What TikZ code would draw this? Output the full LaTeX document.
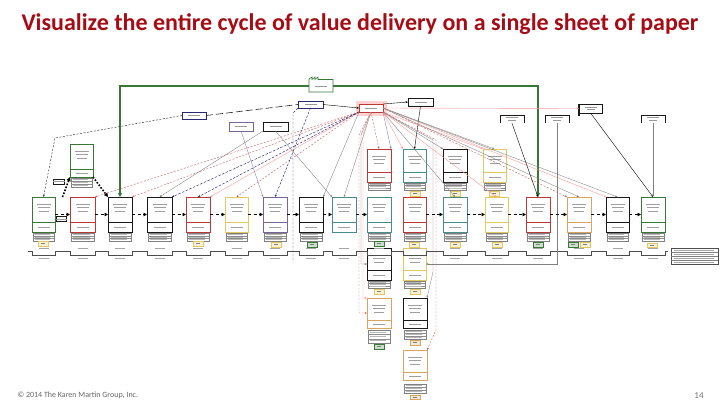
\documentclass[tikz,border=0pt]{standalone}
\usepackage{fontspec}
\setmainfont{Carlito}
\usetikzlibrary{arrows.meta,calc}
\definecolor{ttl}{RGB}{165,12,22}
\definecolor{cRed}{RGB}{190,55,55}
\definecolor{cGrn}{RGB}{55,120,55}
\definecolor{cTeal}{RGB}{70,140,140}
\definecolor{cYel}{RGB}{225,200,95}
\definecolor{cTan}{RGB}{215,165,95}
\definecolor{cPur}{RGB}{120,100,150}
\definecolor{cNavy}{RGB}{40,40,115}
\definecolor{cBlk}{RGB}{25,25,25}
\newcommand\pbx[7]{%
  \node[pbox,draw=#6,minimum width={#4-#2},minimum height={#5-#3}] (#1) at ({(#2+#4)/2},{(#3+#5)/2}) {};
  \draw[draw=#6,line width=0.5pt] (#2,#7) -- (#4,#7);
  \foreach \k in {0,1,2} {\fill[black!38] ({(#2+#4)/2-7+\k},{#3+7+\k*3.4}) rectangle ++({14-2*\k},0.9);}
  \fill[black!38] ({(#2+#4)/2-6},{(#7+#5)/2-0.5}) rectangle ++(12,0.9);
}
\newcommand\pdt[4]{%
  \draw[dtab] ({#1+1},#3) rectangle ({#2-1},#4);
  \draw[black!45,line width=0.3pt] ({#1+1},{#3+(#4-#3)/3}) -- ({#2-1},{#3+(#4-#3)/3})
     ({#1+1},{#3+2*(#4-#3)/3}) -- ({#2-1},{#3+2*(#4-#3)/3});
  \foreach \k in {0,1,2} {\fill[black!28] ({#1+3},{#3+(#4-#3)*(\k+0.5)/3-0.35}) rectangle ++({#2-#1-8},0.7);}
}
\newcommand\plab[3]{%
  \draw[draw=#3,fill=#3!25,line width=0.5pt] ({#1-5},#2) rectangle ({#1+5},{#2+4.5});
  \fill[black!50] ({#1-2},{#2+1.9}) rectangle ++(4,0.8);
}
\tikzset{
  pbox/.style={draw,line width=0.7pt,fill=white,inner sep=0pt,outer sep=0pt},
  sbox/.style={draw,line width=0.6pt,fill=white,inner sep=0pt,outer sep=0pt},
  dtab/.style={draw=black!50,line width=0.35pt,fill=white},
  push/.style={line width=1.1pt,dash pattern=on 3pt off 2.5pt,-{Triangle[length=3.5pt,width=3.5pt]}},
  pullarr/.style={line width=1.6pt,dash pattern=on 1.6pt off 1.6pt,-{Triangle[length=4pt,width=4pt]}},
  info/.style={line width=0.4pt,-{Stealth[length=2.5pt,width=2pt]}},
  redd/.style={draw=cRed!80,line width=0.4pt,dash pattern=on 2pt off 1.5pt,-{Stealth[length=2.5pt,width=2pt]}},
  grayl/.style={draw=black!50,line width=0.35pt,-{Stealth[length=2.5pt,width=2pt]}},
  navl/.style={draw=cNavy,line width=0.45pt,dash pattern=on 2.5pt off 1.5pt,-{Stealth[length=2.5pt,width=2pt]}},
  pinkl/.style={draw=red!40,line width=0.4pt,-{Stealth[length=2.5pt,width=2pt]}},
  purl/.style={draw=cPur!80,line width=0.35pt,-{Stealth[length=2.5pt,width=2pt]}},
  gline/.style={draw=cGrn,line width=1.3pt,-{Triangle[length=4pt,width=4pt]}},
  sdash/.style={draw=black!80,line width=0.45pt,dash pattern=on 2pt off 1.5pt,-{Stealth[length=2.5pt,width=2pt]}},
  ldash/.style={draw=black!85,line width=0.6pt,dash pattern=on 7pt off 3pt},
}
\begin{document}
\begin{tikzpicture}[x=1pt,y=-1pt]
\useasboundingbox (0,0) rectangle (720,405);
\fill[white] (0,0) rectangle (720,405);

% title and footer
\node[font=\fontsize{24}{28}\selectfont\bfseries,text=ttl] (title) at (360,24) {Visualize the entire cycle of value delivery on a single sheet of paper};
\node[anchor=west,font=\fontsize{8}{10}\selectfont,text=black!60] (foot) at (14,395) {© 2014 The Karen Martin Group, Inc.};
\node[font=\fontsize{9}{11}\selectfont,text=black!55] (pg) at (699,396) {14};

% top boxes
\draw[red!18,line width=3pt] (357,102) rectangle (385,114);
\node[pbox,draw=cRed,line width=0.8pt,minimum width=24,minimum height=8] (hub) at (371,108) {};
\node[sbox,draw=cNavy,minimum width=24,minimum height=7] (sales) at (194,115.5) {};
\node[sbox,draw=cNavy,minimum width=25,minimum height=7] (n1) at (310.5,104.5) {};
\node[sbox,draw=cBlk,minimum width=25,minimum height=8] (n2) at (420.5,102) {};
\node[sbox,draw=cBlk,minimum width=23,minimum height=9] (n3) at (590.5,108.5) {};
\node[sbox,draw=cPur,minimum width=24,minimum height=9] (lab) at (241,126.5) {};
\node[sbox,draw=cBlk,minimum width=25,minimum height=9] (n4) at (275.5,126.5) {};
\node[inner sep=0pt,minimum width=24,minimum height=8] (b1) at (512,119) {};
\node[inner sep=0pt,minimum width=24,minimum height=8] (b2) at (557,119) {};
\node[inner sep=0pt,minimum width=24,minimum height=8] (b3) at (653,119) {};
\node[inner sep=0pt,minimum width=24,minimum height=12] (fac) at (321,86) {};
\node[sbox,draw=cBlk,minimum width=11,minimum height=5] (s1) at (58.5,181.5) {};
\node[sbox,draw=cBlk,minimum width=10,minimum height=4.5] (s2) at (61,219) {};
\foreach \nm in {hub,sales,n1,n2,lab,n4,s1,s2} {\fill[black!40] ($(\nm.center)+(-6,-0.4)$) rectangle ++(12,0.9);}
\foreach \nm in {n3,b1,b2,b3} {\fill[black!40] ($(\nm.center)+(-6,-1.6)$) rectangle ++(12,0.9); \fill[black!40] ($(\nm.center)+(-4,0.8)$) rectangle ++(8,0.9);}
\foreach \nm in {b1,b2,b3} {\draw[cBlk,line width=0.6pt] (\nm.south west) -- (\nm.north west) -- (\nm.north east) -- (\nm.south east);}
\draw[cBlk,line width=1.3pt] (n3.north west) -- ++(0,12);
\draw[cBlk,line width=0.8pt] (n3.north east) -- ++(0,10);

% factory icon
\draw[cGrn,line width=0.6pt,fill=white] (309,92) -- (309,79) -- (312,77) -- (312,79.5) -- (315,77) -- (315,79.5) -- (318,77) -- (318,79.5) -- (333,79.5) -- (333,92) -- cycle;
\fill[black!40] (315,86) rectangle ++(12,0.9);

% process boxes: main row
\foreach \n/\a/\b/\c in {1/32/55/cGrn,2/70/95/cRed,3/108/132/cBlk,4/147/172/cBlk,5/186/210/cRed,6/225/248/cYel,7/263/287/cPur,8/299/323/cBlk,9/332/356/cTeal,10/367/391/cTeal,11/403/426/cRed,12/443/467/cTeal,13/485/508/cYel,14/526/550/cRed,15/567/591/cTan,16/606/629/cBlk,17/641/665/cGrn}{%
  \pbx{p\n}{\a}{197}{\b}{232}{\c}{222}
  \ifnum\n=9\relax\else\pdt{\a}{\b}{233}{241}\fi
}
% upper row
\pbx{L}{70}{144}{93}{177}{cGrn}{169}
\pdt{70}{93}{178}{187}
\pbx{A}{367}{149}{391}{182}{cRed}{172}
\pdt{367}{391}{183}{190}
\pbx{B}{403}{149}{426}{182}{cTeal}{172}
\pdt{403}{426}{183}{190}
\pbx{C}{443}{149}{467}{182}{cBlk}{172}
\pdt{443}{467}{183}{190}
\pbx{D}{483}{149}{506}{182}{cYel}{172}
\pdt{483}{506}{183}{190}
\plab{415}{191.5}{cYel}
\plab{455}{191.5}{cYel}
\plab{494}{191.5}{cYel}
% lower rows
\pbx{E1}{367}{248}{391}{280}{cBlk}{270}
\pdt{367}{391}{281}{288}
\pbx{E2}{403}{248}{426}{280}{cYel}{270}
\pdt{403}{426}{281}{288}
\plab{379}{289.5}{cYel}
\plab{415}{289.5}{cYel}
\pbx{F1}{367}{298}{391}{328}{cTan}{320}
\pdt{367}{391}{330}{343}
\plab{379}{344.5}{cGrn}
\pbx{F2}{403}{298}{427}{328}{cBlk}{320}
\pdt{403}{427}{330}{339}
\plab{415}{340.5}{cTan}
\pbx{G}{403}{350}{427}{380}{cTan}{372}
\pdt{403}{427}{384}{393}
\plab{415}{395}{cTan}

% labels under main row
\plab{43}{241.5}{cYel}
\plab{198}{241.5}{cYel}
\plab{276}{242.5}{cYel}
\plab{312}{242.5}{cGrn}
\plab{379}{241.5}{cGrn}
\plab{414}{242.5}{cYel}
\plab{455}{242.5}{cYel}
\plab{497}{242.5}{cYel}
\plab{538}{242.5}{cGrn}
\plab{573}{242.5}{cGrn}
\plab{585}{242.5}{cYel}
\plab{652}{243}{cYel}

% timeline
\draw[black!70,line width=0.5pt] (28,251) \foreach \a/\b in {32/55,70/95,108/132,147/172,186/210,225/248,263/287,299/323,332/356,367/391,403/426,443/467,485/508,526/550,567/591,606/629,641/665} { -- (\a,251) -- (\a,255) -- (\b,255) -- (\b,251) } -- (668,251);
\foreach \a/\b in {32/55,70/95,108/132,147/172,186/210,225/248,263/287,299/323,332/356,367/391,403/426,443/467,485/508,526/550,567/591,606/629,641/665} {%
  \fill[black!35] ({(\a+\b)/2-5},248.3) rectangle ++(10,0.8);
  \fill[black!35] ({(\a+\b)/2-5},258) rectangle ++(10,0.8);
}
% legend
\node[sbox,draw=black!70,line width=0.4pt,minimum width=47,minimum height=16] (leg) at (694.5,256) {};
\foreach \yy in {252,256,260} {\draw[black!50,line width=0.3pt] (671,\yy) -- (718,\yy);}
\foreach \yy in {250,254,258,262} {\fill[black!35] (674,{\yy-0.4}) rectangle ++(40,0.8);}

% ---- connectors ----
\draw[gline] (fac.west) -| (p3.north);
\draw[gline] (fac.east) -| (p14.north);
\draw[info] (n1.east) -- (hub.west);
\draw[info] (hub.north east) -- (n2.west);
\draw[pinkl] (hub.east) -- (n3.west);
\draw[ldash] (sales.east) -- (n1.west);
\draw[sdash] (sales.west) -- (55,138) -- (p1.north);
\draw[pullarr] ($(p1.north east)!0.5!(p2.north west)$) -- (L.south west);
\draw[pullarr] (L.south east) -- (p3.north west);

% fan from hub to the left
\draw[redd] (hub.south west) -- (p2.north east);
\draw[redd] (hub.south west) -- (p3.north east);
\draw[pinkl] (hub.south west) -- (p5.north east);
\draw[redd] (hub.south west) -- (p6.north);
\draw[navl] (hub.south west) -- (p4.north east);
\draw[navl] (hub.south west) -- (p5.north);
\draw[grayl] (hub.south west) -- (p8.north east);
\draw[grayl] (hub.south) -- (p9.north);
\draw[navl] (n1.south) -- (p7.north);
\draw[navl,-] (n1.south west) -- (293,113) -- (293,262);
\draw[purl] (lab.south) -- (p7.north west);
\draw[grayl] (n4.south) -- (p9.north west);
\draw[grayl] (n4.south west) -- (p4.north);

% hub to upper row
\draw[redd] (hub.south) -- (A.north);
\draw[grayl] (hub.south east) -- (A.north east);
\draw[pinkl] (hub.south east) -- (B.north west);
\draw[info] (n2.south) -- (B.north);
\draw[grayl] (hub.south east) -- (C.north west);
\draw[pinkl] (hub.south east) -- (D.north west);
\draw[grayl] (hub.east) -- (D.north);

% hub to right main row
\draw[grayl] (hub.south east) -- (p12.north);
\draw[pinkl] (hub.south east) -- (p13.north);
\draw[redd] (hub.east) -- (p15.north west);
\draw[grayl] (hub.east) -- (p15.north);
\draw[pinkl] (hub.east) -- (p16.north west);
\draw[grayl] (hub.east) -- (p16.north);
\draw[info] (b1.south) -- (p14.north);
\draw[info] (n3.south) -- (p17.north);
\draw[grayl] (b3.south) -- (p17.north);
\draw[grayl] (b2.south) |- (E2.east);

% vertical bundles to lower group
\draw[redd] (hub.south) -- (359,135) |- (F1.west);
\draw[grayl] (hub.south) -- (361,135) |- (E1.west);
\draw[pinkl] (hub.south) -- (363,135) |- (F1.north west);
\draw[grayl] (hub.south east) -- (433,140) -- (433,272) -- (F2.north east);
\draw[redd] (hub.south east) -- (436,140) -- (436,330) -- (G.north east);

% push arrows main row
\foreach \i/\j in {1/2,2/3,3/4,4/5,5/6,6/7,7/8,8/9,9/10,11/12,12/13,13/14,14/15,15/16,16/17} {\draw[push] (p\i.east) -- (p\j.west);}
\end{tikzpicture}
\end{document}
